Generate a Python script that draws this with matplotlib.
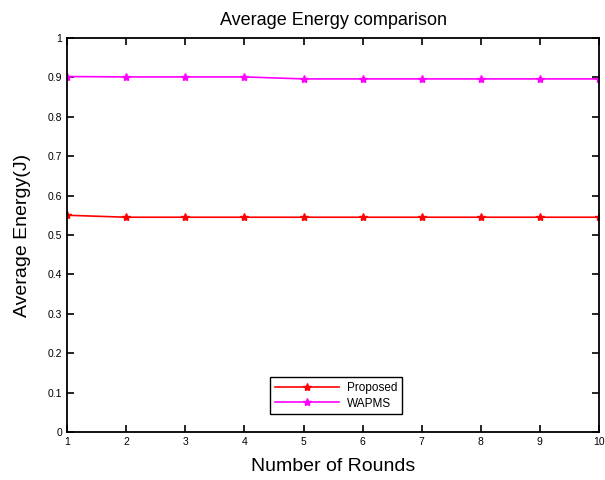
import numpy as np
import matplotlib
matplotlib.use('Agg')
import matplotlib.pyplot as plt

matplotlib.rcParams['font.family'] = ['Liberation Sans', 'DejaVu Sans']

rounds = [1, 2, 3, 4, 5, 6, 7, 8, 9, 10]
proposed = [0.550, 0.545, 0.545, 0.545, 0.545, 0.545, 0.545, 0.545, 0.545, 0.545]
wapms = [0.902, 0.901, 0.901, 0.901, 0.896, 0.896, 0.896, 0.896, 0.896, 0.896]

fig = plt.figure(figsize=(6.05, 4.8), dpi=100)
ax = fig.add_axes([0.111, 0.1, 0.879, 0.821])

ax.plot(rounds, proposed, color='red', marker='*', markersize=6, linewidth=1.2, label='Proposed')
ax.plot(rounds, wapms, color='magenta', marker='*', markersize=6, linewidth=1.2, label='WAPMS')

ax.set_xlim(1, 10)
ax.set_ylim(0, 1)
ax.set_xticks(rounds)
ax.set_yticks(np.arange(0, 1.01, 0.1))
ax.set_yticklabels(['0', '0.1', '0.2', '0.3', '0.4', '0.5', '0.6', '0.7', '0.8', '0.9', '1'])
ax.tick_params(direction='in', top=True, right=True, labelsize=7.5, length=5, width=1.2)
for s in ax.spines.values():
    s.set_linewidth(1.3)

ax.set_title('Average Energy comparison', fontsize=13, pad=9)
ax.set_xlabel('Number of Rounds', fontsize=14, labelpad=8)
ax.set_ylabel('Average Energy(J)', fontsize=14, labelpad=12)

leg = ax.legend(loc='lower center', bbox_to_anchor=(0.505, 0.03), fontsize=8.5,
                fancybox=False, edgecolor='black', framealpha=1, handlelength=5.5,
                borderpad=0.4, labelspacing=0.3, handletextpad=0.6)
leg.get_frame().set_linewidth(1.0)

fig.savefig('out.png', dpi=100)
